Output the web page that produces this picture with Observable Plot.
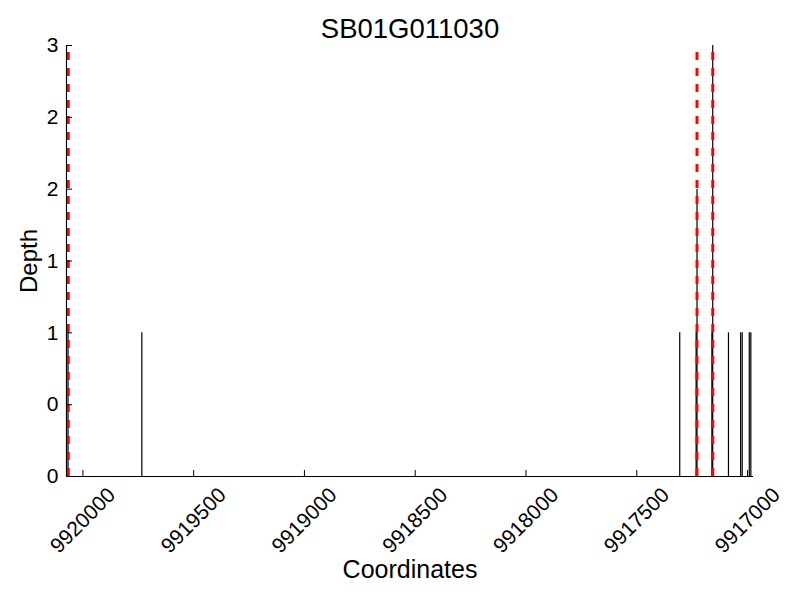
<!DOCTYPE html>
<html>
<head>
<meta charset="utf-8">
<script src="https://cdn.jsdelivr.net/npm/d3@7"></script>
<script src="https://cdn.jsdelivr.net/npm/@observablehq/plot@0.6"></script>
<style>
  html, body { margin: 0; padding: 0; background: #fff; }
</style>
</head>
<body>
<div id="chart"></div>
<script>
const title = "SB01G011030";
const xLabel = "Coordinates";
const yLabel = "Depth";
const xDomain = [9920074, 9916973];
const yDomain = [0, 3];
const coords = [9920067, 9919734, 9917306, 9917228, 9917232, 9917157, 9917161, 9917086, 9917031, 9917024, 9916992, 9916985];
const depths = [1, 1, 1, 2, 1, 3, 1, 1, 1, 1, 1, 1];
const markers = [9920066, 9917228, 9917157];
const xTicks = [9920000, 9919500, 9919000, 9918500, 9918000, 9917500, 9917000];
const yTicks = [0, 0.5, 1, 1.5, 2, 2.5, 3];
const yTickLabels = ["0", "0", "1", "1", "2", "2", "3"];

const bars = coords.map((c, i) => ({coord: c, depth: depths[i]}));

const chart = Plot.plot({
  width: 800,
  height: 600,
  marginLeft: 66,
  marginRight: 47,
  marginTop: 45,
  marginBottom: 124,
  x: {domain: xDomain},
  y: {domain: yDomain},
  style: {fontFamily: "'Liberation Sans', Arial, sans-serif", background: "#fff", color: "#000"},
  marks: [
    Plot.ruleX(bars, {x: "coord", y1: 0, y2: "depth", stroke: "#000", strokeWidth: 1.2}),
    Plot.ruleX(markers, {x: d => d, y1: yDomain[0], y2: yDomain[1], stroke: "#ff0000", strokeWidth: 3, strokeDasharray: "8,8"}),
    Plot.ruleY([yDomain[0]], {stroke: "#000", strokeWidth: 1.2}),
    Plot.ruleX([xDomain[0]], {stroke: "#000", strokeWidth: 1.2}),
    Plot.axisX({ticks: xTicks, tickSize: -6, tickFormat: () => "", label: null}),
    Plot.axisY({ticks: yTicks, tickSize: -6, tickFormat: () => "", label: null}),
    Plot.text(xTicks, {x: d => d, frameAnchor: "bottom", dy: 44, rotate: -45, text: d => String(d), fontSize: 21, textAnchor: "middle", lineAnchor: "middle", fill: "#000"}),
    Plot.text(yTicks, {y: d => d, frameAnchor: "left", dx: -8, textAnchor: "end", lineAnchor: "middle", text: (d, i) => yTickLabels[i], fontSize: 21, fill: "#000"}),
    Plot.text([title], {frameAnchor: "top", dy: -8, lineAnchor: "bottom", fontSize: 27.5, fill: "#000"}),
    Plot.text([xLabel], {frameAnchor: "bottom", dy: 101, lineAnchor: "bottom", fontSize: 25, fill: "#000"}),
    Plot.text([yLabel], {frameAnchor: "left", dx: -30, rotate: -90, textAnchor: "middle", lineAnchor: "bottom", fontSize: 24, fill: "#000"})
  ]
});
document.getElementById("chart").appendChild(chart);
</script>
</body>
</html>
